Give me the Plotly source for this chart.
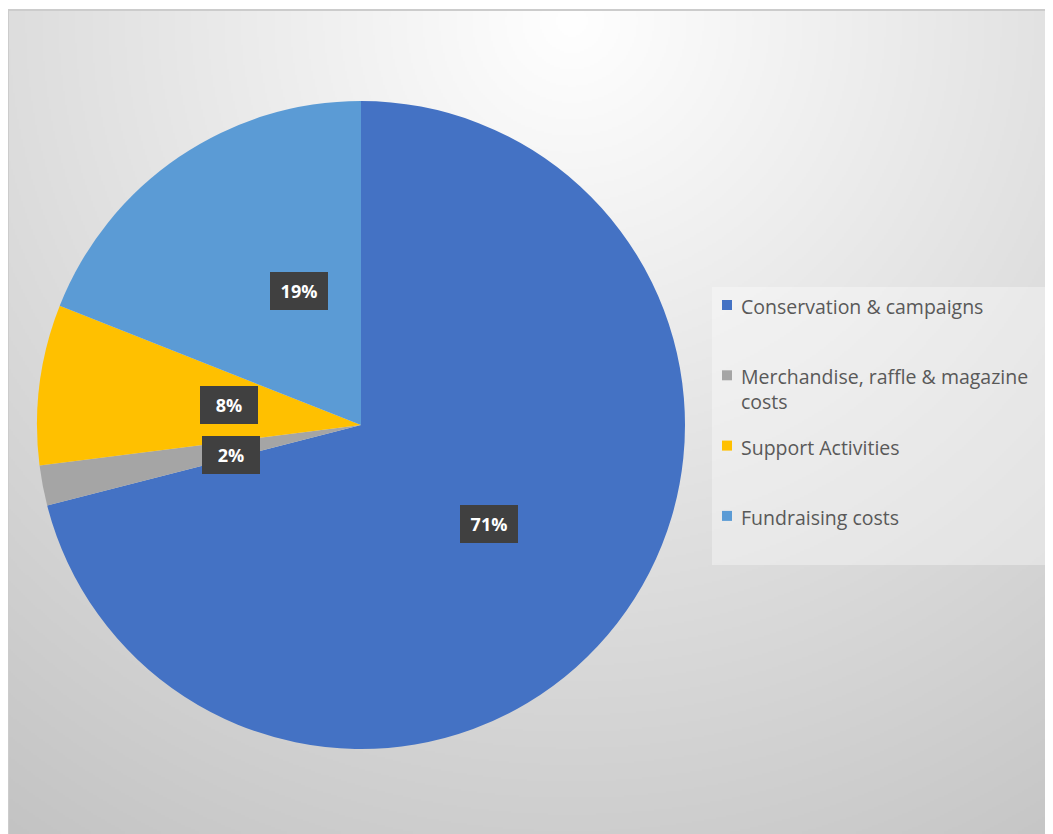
import base64, math, struct, textwrap, zlib
import numpy as np
import plotly.graph_objects as go

# ---- data ----
categories = ["Conservation & campaigns", "Merchandise, raffle & magazine costs",
              "Support Activities", "Fundraising costs"]
values = [71, 2, 8, 19]
colors = ["#4472C4", "#A5A5A5", "#FFC000", "#5B9BD5"]

OFF = 8                      # page body margin in the browser
W, H = 1053 - OFF, 834 - OFF  # figure size so it ends at the window edge

def px(x):
    return (x - OFF) / W

def py(y):
    return 1 - (y - OFF) / H

# ---- radial gradient background (style only) ----
def make_png(arr):
    h, w = arr.shape
    raw = b"".join(b"\x00" + arr[i].tobytes() for i in range(h))
    def chunk(t, d):
        c = struct.pack(">I", len(d)) + t + d
        return c + struct.pack(">I", zlib.crc32(t + d) & 0xffffffff)
    png = b"\x89PNG\r\n\x1a\n"
    png += chunk(b"IHDR", struct.pack(">IIBBBBB", w, h, 8, 0, 0, 0, 0))
    png += chunk(b"IDAT", zlib.compress(raw, 9))
    png += chunk(b"IEND", b"")
    return "data:image/png;base64," + base64.b64encode(png).decode()

gw, gh = 1045 // 2, 824 // 2
yy, xx = np.mgrid[0:gh, 0:gw].astype(float)
d = np.hypot(xx * 2 + 8 - 570, yy * 2 + 10 - 20)
v = 255 - 60 * np.clip(d / 993, 0, 1.2) ** 1.0
bg = np.clip(v, 0, 255).astype(np.uint8)
bg_src = make_png(bg)

fig = go.Figure()

fig.add_trace(go.Pie(
    labels=categories, values=values, sort=False, direction="clockwise",
    rotation=0, marker=dict(colors=colors, line=dict(width=0)),
    textinfo="none", hoverinfo="label+percent", showlegend=False,
    domain=dict(x=[px(37), px(685)], y=[py(749), py(101)]),
))

# ---- data labels at mid-angle, half radius ----
cx, cy = (px(37) + px(685)) / 2, (py(749) + py(101)) / 2
rx, ry = 324 / W, 324 / H
total = sum(values)
cum = 0
annotations = []
for val in values:
    mid = (cum + val / 2) / total * 2 * math.pi
    cum += val
    annotations.append(dict(
        x=cx + 0.5 * rx * math.sin(mid), y=cy + 0.5 * ry * math.cos(mid),
        xref="paper", yref="paper", showarrow=False,
        text="<b>%d%%</b>" % round(val / total * 100),
        font=dict(family="Open Sans", size=18, color="white"),
        bgcolor="#404040", width=48, height=28, borderpad=5, borderwidth=0,
    ))

# ---- frame and legend ----
shapes = [
    dict(type="rect", xref="paper", yref="paper", x0=px(8), x1=1.02, y0=-0.02, y1=py(10),
         line=dict(color="#cccccc", width=2), fillcolor="rgba(0,0,0,0)", layer="below"),
    dict(type="rect", xref="paper", yref="paper", x0=px(712), x1=px(1050), y0=py(565), y1=py(287),
         line=dict(width=0), fillcolor="rgba(255,255,255,0.35)", layer="below"),
]
row0, row_step = 305, 70.3
for i, (cat, col) in enumerate(zip(categories, colors)):
    ry_px = row0 + i * row_step
    shapes.append(dict(type="rect", xref="paper", yref="paper",
                       x0=px(722), x1=px(732), y0=py(ry_px + 5), y1=py(ry_px - 5),
                       fillcolor=col, line=dict(width=0)))
    annotations.append(dict(
        x=px(739), y=py(ry_px - 14), xref="paper", yref="paper", xanchor="left", yanchor="top",
        showarrow=False, align="left",
        text="<br>".join(textwrap.wrap(cat, 30)),
        font=dict(family="Open Sans", size=19.5, color="#595959"),
    ))

fig.update_layout(
    width=W, height=H, margin=dict(l=0, r=0, t=0, b=0),
    paper_bgcolor="white", showlegend=False,
    images=[dict(source=bg_src, xref="paper", yref="paper", x=px(8), y=py(10),
                 sizex=1 - px(8), sizey=py(10), xanchor="left", yanchor="top",
                 sizing="stretch", layer="below")],
    shapes=shapes, annotations=annotations,
)

fig.write_html("out.html")
